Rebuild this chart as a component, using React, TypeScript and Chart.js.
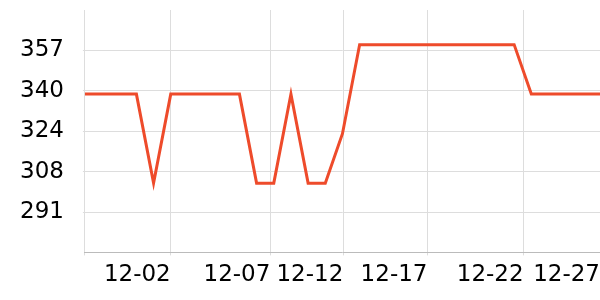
import React, { useEffect, useRef } from "react";
import { Chart, registerables } from "chart.js";

Chart.register(...registerables);

const dates = [
  "11-27", "11-28", "11-29", "11-30", "12-01", "12-02", "12-03", "12-04",
  "12-05", "12-06", "12-07", "12-08", "12-09", "12-10", "12-11", "12-12",
  "12-13", "12-14", "12-15", "12-16", "12-17", "12-18", "12-19", "12-20",
  "12-21", "12-22", "12-23", "12-24", "12-25", "12-26", "12-27",
];

const values = [
  339, 339, 339, 339, 303, 339, 339, 339, 339, 339, 303, 303, 339, 303, 303,
  323, 359, 359, 359, 359, 359, 359, 359, 359, 359, 359, 339, 339, 339, 339, 339,
];

const xTickPositions = [0, 5, 10.8, 15.05, 19.95, 25.55, 30];
const xTickLabels = ["", "12-02", "12-07", "12-12", "12-17", "12-22", "12-27"];

const yMin = 275;
const yMax = 373;
const ySteps = 6;

const FONT = "'DejaVu Sans', sans-serif";

export default function App() {
  const ref = useRef<HTMLCanvasElement | null>(null);

  useEffect(() => {
    if (!ref.current) return;
    const chart = new Chart(ref.current, {
      type: "line",
      data: {
        datasets: [
          {
            data: values.map((v, i) => ({ x: i, y: v })),
            borderColor: "#ee4b2b",
            borderWidth: 3,
            pointRadius: 0,
            tension: 0,
            fill: false,
          },
        ],
      },
      options: {
        responsive: false,
        animation: false,
        layout: { padding: { top: 10, left: 1, right: 0, bottom: 5 } },
        plugins: { legend: { display: false }, tooltip: { enabled: false } },
        scales: {
          x: {
            type: "linear",
            min: 0,
            max: dates.length - 1,
            afterBuildTicks: (s: any) => {
              s.ticks = xTickPositions.map((v) => ({ value: v }));
            },
            afterFit: (s: any) => {
              s.paddingLeft = 0;
              s.paddingRight = 0;
            },
            ticks: {
              align: "end",
              maxRotation: 0,
              autoSkip: false,
              padding: 6,
              color: "#000",
              font: { family: FONT, size: 23 },
              callback: (_v: any, i: number) => xTickLabels[i],
            },
            grid: { color: "#dddddd", tickLength: 3 },
            border: { color: "#bbbbbb" },
          },
          y: {
            min: yMin,
            max: yMax,
            afterBuildTicks: (s: any) => {
              const arr = [];
              for (let k = 0; k <= ySteps; k++) {
                arr.push({ value: yMin + (k * (yMax - yMin)) / ySteps });
              }
              s.ticks = arr;
            },
            afterFit: (s: any) => {
              s.paddingTop = 0;
              s.paddingBottom = 0;
            },
            ticks: {
              padding: 19,
              color: "#000",
              font: { family: FONT, size: 23 },
              callback: (v: any, i: number) =>
                i === 0 || i === ySteps ? "" : String(Math.round(Number(v))),
            },
            grid: {
              color: (ctx: any) =>
                ctx.index === 0 || ctx.index === ySteps ? "rgba(0,0,0,0)" : "#dddddd",
              tickLength: 2,
            },
            border: { display: false },
          },
        },
      },
    });
    return () => chart.destroy();
  }, []);

  return (
    <div style={{ position: "fixed", left: 0, top: 0, width: 600, height: 300, background: "#fff" }}>
      <canvas ref={ref} width={600} height={300} style={{ display: "block" }} />
    </div>
  );
}
